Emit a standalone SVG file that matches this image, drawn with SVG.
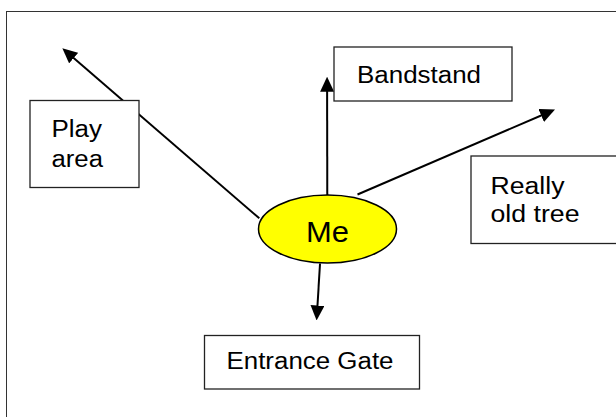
<svg xmlns="http://www.w3.org/2000/svg" width="616" height="417" viewBox="0 0 616 417">
  <style>
    .box { fill: #ffffff; stroke: #222222; stroke-width: 1.3; }
    .link { fill: none; stroke: #000000; stroke-width: 2; marker-end: url(#arrow); }
    .label { font-family: "Liberation Sans", Arial, sans-serif; font-size: 23.5px; fill: #000000; }
    .me { font-family: "Liberation Sans", Arial, sans-serif; font-size: 30px; fill: #000000; }
  </style>
  <defs>
    <marker id="arrow" markerUnits="userSpaceOnUse" markerWidth="15" markerHeight="14" refX="5" refY="7" orient="auto">
      <path d="M0,0 L15,7 L0,14 Z" fill="#000000"/>
    </marker>
  </defs>

  <rect width="616" height="417" fill="#ffffff"/>
  <!-- page frame, running off the right and bottom edges -->
  <rect x="6.5" y="11.5" width="620" height="420" fill="none" stroke="#333333" stroke-width="1"/>

  <g id="connectors">
    <line class="link" x1="259.3" y1="218.3" x2="69.9" y2="54.8"/>
    <line class="link" x1="327.3" y1="195" x2="327.1" y2="86.7"/>
    <line class="link" x1="357.5" y1="194.5" x2="545.8" y2="113.5"/>
    <line class="link" x1="320" y1="263.5" x2="317.2" y2="310.5"/>
  </g>

  <g id="play-area">
    <rect class="box" x="30" y="100.5" width="109" height="87"/>
    <text class="label" x="51.5" y="137" textLength="50.5" lengthAdjust="spacingAndGlyphs">Play</text>
    <text class="label" x="51.5" y="166.5" textLength="51.5" lengthAdjust="spacingAndGlyphs">area</text>
  </g>

  <g id="bandstand">
    <rect class="box" x="334" y="47" width="178" height="54"/>
    <text class="label" x="357" y="83.3" textLength="124" lengthAdjust="spacingAndGlyphs">Bandstand</text>
  </g>

  <g id="old-tree">
    <rect class="box" x="471" y="156" width="160" height="87.5"/>
    <text class="label" x="490.5" y="193.5" textLength="74" lengthAdjust="spacingAndGlyphs">Really</text>
    <text class="label" x="490.5" y="222" textLength="89" lengthAdjust="spacingAndGlyphs">old tree</text>
  </g>

  <g id="entrance-gate">
    <rect class="box" x="204.5" y="335.5" width="215" height="53.5"/>
    <text class="label" x="226.5" y="369.3" textLength="167" lengthAdjust="spacingAndGlyphs">Entrance Gate</text>
  </g>

  <g id="me">
    <ellipse cx="327.5" cy="229" rx="69" ry="34" fill="#ffff00" stroke="#000000" stroke-width="1.5"/>
    <text class="me" x="306" y="241.7" textLength="43" lengthAdjust="spacingAndGlyphs">Me</text>
  </g>
</svg>
